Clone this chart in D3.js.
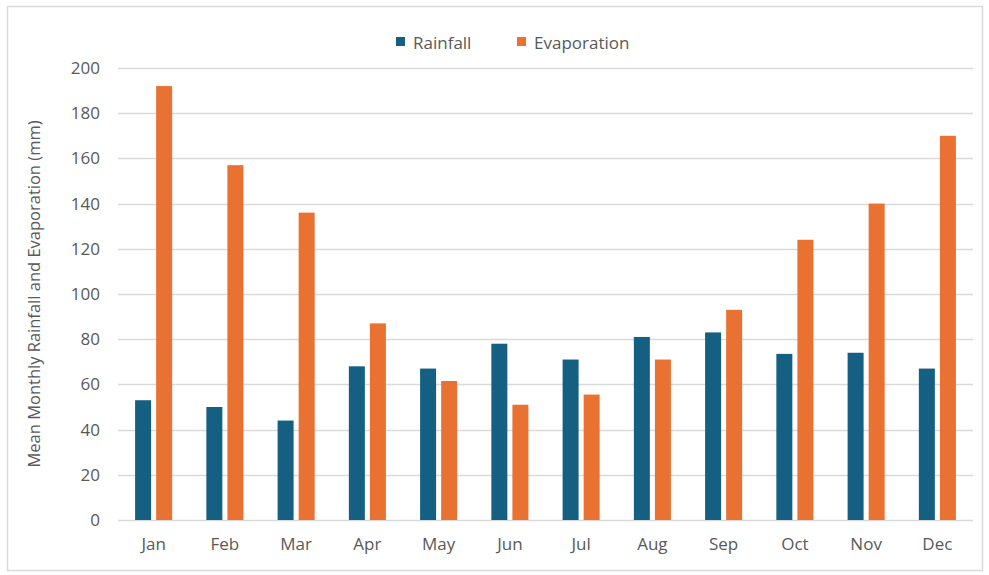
<!DOCTYPE html>
<html><head><meta charset="utf-8">
<script src="https://cdn.jsdelivr.net/npm/d3@7"></script>
<style>body{margin:0;background:#fff}svg{display:block}text{font-family:"Open Sans","Noto Sans",sans-serif;fill:#595959}</style>
</head><body>
<script>
const months = ["Jan","Feb","Mar","Apr","May","Jun","Jul","Aug","Sep","Oct","Nov","Dec"];
const rainfall = [53,50,44,68,67,78,71,81,83,73.5,74,67];
const evaporation = [192,157,136,87,61.5,51,55.5,71,93,124,140,170];
const seriesNames = ["Rainfall","Evaporation"];
const colors = ["#156082","#E97132"];
const yTicks = [0,20,40,60,80,100,120,140,160,180,200];

const W=989,H=575;
const m={l:118,r:16,t:68,b:55};
const svg=d3.select("body").append("svg").attr("width",W).attr("height",H);
svg.append("rect").attr("x",7.5).attr("y",6.5).attr("width",975).attr("height",564)
  .attr("fill","#fff").attr("stroke","#d9d9d9").attr("stroke-width",1.5);

const x0=d3.scaleBand().domain(months).range([m.l,W-m.r]).paddingInner(0.48).paddingOuter(0.24);
const x1=d3.scaleBand().domain(seriesNames).range([0,x0.bandwidth()]).paddingInner(0.24);
const y=d3.scaleLinear().domain([0,200]).range([H-m.b,m.t]);

svg.append("g").selectAll("line").data(yTicks).join("line")
  .attr("x1",m.l).attr("x2",W-m.r).attr("y1",d=>Math.round(y(d))+0.5).attr("y2",d=>Math.round(y(d))+0.5)
  .attr("stroke","#d9d9d9").attr("stroke-width",1.5);

const yAxis=d3.axisLeft(y).tickValues(yTicks).tickSize(0).tickPadding(18);
const ya=svg.append("g").attr("transform",`translate(${m.l},0)`).call(yAxis);
ya.select(".domain").remove();
ya.selectAll("text").style("font-size","17px").attr("fill","#595959");

const xAxis=d3.axisBottom(x0).tickSize(0).tickPadding(18);
const xa=svg.append("g").attr("transform",`translate(0,${H-m.b})`).call(xAxis);
xa.select(".domain").remove();
xa.selectAll("text").style("font-size","17px").attr("fill","#595959");

const data=months.map((mo,i)=>({m:mo,v:[rainfall[i],evaporation[i]]}));
const grp=svg.selectAll("g.grp").data(data).join("g").attr("class","grp")
  .attr("transform",d=>`translate(${x0(d.m)},0)`);
grp.selectAll("rect").data(d=>d.v.map((v,i)=>({k:seriesNames[i],v,i}))).join("rect")
  .attr("x",d=>x1(d.k)).attr("width",x1.bandwidth())
  .attr("y",d=>y(d.v)).attr("height",d=>y(0)-y(d.v)).attr("fill",d=>colors[d.i]);

// legend
const leg=[{x:396},{x:517}];
leg.forEach((l,i)=>{
  svg.append("rect").attr("x",l.x).attr("y",37).attr("width",9).attr("height",9).attr("fill",colors[i]);
  svg.append("text").attr("x",l.x+17).attr("y",49).style("font-size","17px").text(seriesNames[i]);
});

// y label
svg.append("text").attr("transform",`translate(40,${(y(0)+y(200))/2}) rotate(-90)`)
  .attr("text-anchor","middle").style("font-size","16.5px")
  .text("Mean Monthly Rainfall and Evaporation (mm)");
</script>
</body></html>
